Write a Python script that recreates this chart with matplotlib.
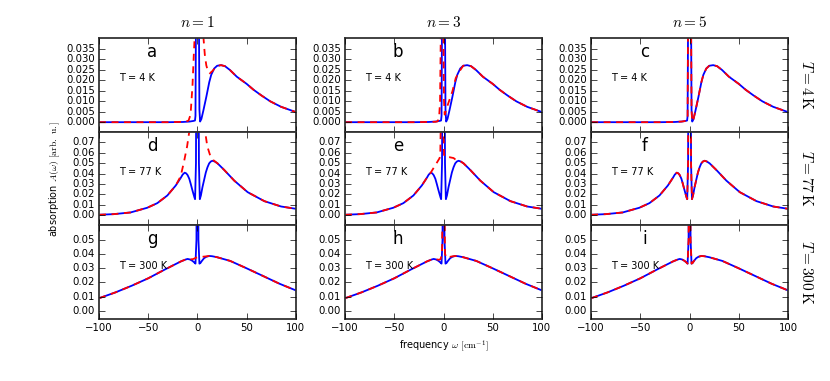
import numpy as np
import matplotlib
matplotlib.use('Agg')
import matplotlib.pyplot as plt
from matplotlib.ticker import FormatStrFormatter

# old-school matplotlib look
plt.style.use('classic')

# EXACT SPECTRA (blue), one per temperature, same in every column

# T = 4 K
freq_4K = [-100, -60, -30, -15, -8, -4, -2.5, -2, -1.5, -1, 0, 1, 1.5, 2, 2.7,
           4, 6, 9, 12, 14, 17, 20, 24, 28, 33, 40, 50, 57, 65, 74, 85, 100]
abs_4K = [0, 0, 0, 0.0001, 0.0003, 0.0006, 0.0008, 0.003, 0.05, 0.2, 0.5, 0.2, 0.05, 0.006, 0.0003,
          0.0015, 0.0055, 0.012, 0.019, 0.0225, 0.0255, 0.0268, 0.0271, 0.0266, 0.0248, 0.0216,
          0.0182, 0.0154, 0.0127, 0.0099, 0.0073, 0.0048]

# T = 77 K
freq_77K = [-100, -85, -68, -51, -40.8, -30.6, -22.1, -17, -15, -13, -11.5, -10, -8.3, -6.8,
            -5.4, -4.1, -3, -2.4, -1.5, -1, 0, 1, 1.5, 2.4, 3.5, 5.1, 6.8, 8.5, 10.2, 11.9,
            13.6, 15.3, 17.5, 20.4, 27.2, 37.4, 51, 68, 85, 100]
abs_77K = [0.0006, 0.0012, 0.0028, 0.0073, 0.0117, 0.019, 0.0285, 0.0358, 0.039, 0.0408,
           0.0402, 0.0385, 0.035, 0.030, 0.025, 0.0206, 0.017, 0.0155, 0.05, 0.2, 0.5, 0.2,
           0.05, 0.0155, 0.019, 0.027, 0.034, 0.041, 0.046, 0.0497, 0.0515, 0.0522, 0.0515,
           0.0497, 0.0434, 0.0332, 0.0222, 0.0136, 0.0085, 0.0063]

# T = 300 K
freq_300K = [-100, -83.3, -66.7, -50, -33.3, -16.7, -12, -10, -7.5, -5, -3, -2, -1, 0, 1, 2,
             3, 4.5, 6.7, 9, 12, 15, 20, 33.3, 50, 66.7, 83.3, 100]
abs_300K = [0.0088, 0.0129, 0.0176, 0.0228, 0.0289, 0.0347, 0.0360, 0.0364, 0.0360, 0.035,
            0.0338, 0.0331, 0.05, 0.3, 0.05, 0.0331, 0.0335, 0.035, 0.0369, 0.0379, 0.0385,
            0.0383, 0.0376, 0.035, 0.0298, 0.0244, 0.019, 0.0143]

# APPROXIMATE SPECTRA (red dashed), one per panel

freq_a = [-100, -30, -12, -9, -7, -5, -3.7, -2.7, 0, 5.8, 7.5, 9, 10.5, 12.5, 15, 18, 20,
          24, 28, 33, 40, 50, 57, 65, 74, 85, 100]
red_a = [0, 0, 0.0002, 0.0008, 0.0036, 0.0177, 0.032, 0.042, 0.2, 0.042, 0.032, 0.027,
         0.0245, 0.0232, 0.0242, 0.0258, 0.0267, 0.0271, 0.0266, 0.0248, 0.0216, 0.0182,
         0.0154, 0.0127, 0.0099, 0.0073, 0.0048]

freq_b = [-100, -30, -8, -6, -4.5, -3.5, -2.7, -1.5, -0.2, 0.5, 1.2, 3, 5.6, 9, 12.4, 15.7,
          20, 24, 28, 33, 40, 50, 57, 65, 74, 85, 100]
red_b = [0, 0, 0.0002, 0.0004, 0.002, 0.01, 0.045, 0.2, 0.045, 0.01, 0.0036, 0.0064, 0.0100,
         0.0146, 0.0209, 0.0238, 0.0268, 0.0271, 0.0266, 0.0248, 0.0216, 0.0182, 0.0154,
         0.0127, 0.0099, 0.0073, 0.0048]

freq_c = freq_4K
red_c = abs_4K

freq_d = [-100, -85, -68, -51, -40.8, -30.6, -22.1, -17, -13.5, -10.5, -8, -4, 0, 4, 7.5, 10,
          13, 16.5, 20.4, 27.2, 37.4, 51, 68, 85, 100]
red_d = [0.0006, 0.0012, 0.0028, 0.0073, 0.0117, 0.019, 0.0285, 0.0375, 0.052, 0.066, 0.082,
         0.15, 0.3, 0.15, 0.082, 0.066, 0.057, 0.0525, 0.0497, 0.0434, 0.0332, 0.0222, 0.0136,
         0.0085, 0.0063]

freq_e = [-100, -85, -68, -51, -40.8, -30.6, -22.1, -17, -13, -10.2, -7, -4.1, -3.3, -2.6,
          -1.5, -0.3, 0.5, 1.7, 6, 10.2, 12, 14.2, 15.3, 17.5, 20.4, 27.2, 37.4, 51, 68, 85, 100]
red_e = [0.0006, 0.0012, 0.0028, 0.0073, 0.0117, 0.019, 0.0285, 0.0358, 0.0408, 0.0451,
         0.0500, 0.0545, 0.057, 0.1, 0.3, 0.1, 0.058, 0.0555, 0.0556, 0.0548, 0.0535, 0.0523,
         0.0522, 0.0515, 0.0497, 0.0434, 0.0332, 0.0222, 0.0136, 0.0085, 0.0063]

freq_f = freq_77K
red_f = abs_77K

freq_g = [-100, -83.3, -66.7, -50, -33.3, -16.7, -12, -10, -7.5, -5, -3, -1.5, 0, 3, 6, 9,
          12, 15, 20, 33.3, 50, 66.7, 83.3, 100]
red_g = [0.0088, 0.0129, 0.0176, 0.0228, 0.0289, 0.0347, 0.0360, 0.0364, 0.0362, 0.0362,
         0.0367, 0.0373, 0.0376, 0.0378, 0.0380, 0.0382, 0.0385, 0.0383, 0.0376, 0.035,
         0.0298, 0.0244, 0.019, 0.0143]

freq_h = [-100, -83.3, -66.7, -50, -33.3, -16.7, -12, -10, -7.5, -5, -3, -1.5, -0.7, 0, 0.7,
          1.5, 3, 6, 9, 12, 15, 20, 33.3, 50, 66.7, 83.3, 100]
red_h = [0.0088, 0.0129, 0.0176, 0.0228, 0.0289, 0.0347, 0.0360, 0.0364, 0.0362, 0.0358,
         0.0362, 0.040, 0.1, 0.3, 0.1, 0.040, 0.0372, 0.0378, 0.0382, 0.0385, 0.0383, 0.0376,
         0.035, 0.0298, 0.0244, 0.019, 0.0143]

freq_i = freq_300K
red_i = abs_300K

# labels
orders = [1, 3, 5]
temps = ['4', '77', '300']
letters = ['a', 'b', 'c', 'd', 'e', 'f', 'g', 'h', 'i']

exact = [(freq_4K, abs_4K), (freq_77K, abs_77K), (freq_300K, abs_300K)]
approx = [[(freq_a, red_a), (freq_b, red_b), (freq_c, red_c)],
          [(freq_d, red_d), (freq_e, red_e), (freq_f, red_f)],
          [(freq_g, red_g), (freq_h, red_h), (freq_i, red_i)]]

# y range, tick step and format of each row
ylims = [(-0.0045, 0.04), (-0.0095, 0.08), (-0.0058, 0.06)]
ysteps = [0.005, 0.01, 0.01]
ytops = [0.035, 0.07, 0.05]
yfmts = ['%.3f', '%.2f', '%.2f']

fig, axes = plt.subplots(3, 3, figsize=(8.3, 3.81), dpi=100, sharex=True)
fig.patch.set_facecolor('white')
fig.subplots_adjust(left=0.1193, right=0.9494, top=0.9003, bottom=0.1627,
                    wspace=0.25, hspace=0.0)

for r in range(3):
    for c in range(3):
        ax = axes[r, c]
        fx, fy = exact[r]
        ax.plot(fx, fy, color='b', linewidth=1.3)
        gx, gy = approx[r][c]
        ax.plot(gx, gy, color='r', linestyle='--', dashes=(5, 4), linewidth=1.3)

        ax.set_xlim(-100, 100)
        ax.set_ylim(ylims[r])
        ax.set_xticks([-100, -50, 0, 50, 100])
        ax.set_yticks(np.arange(0, ytops[r] + ysteps[r] / 2, ysteps[r]))
        ax.yaxis.set_major_formatter(FormatStrFormatter(yfmts[r]))
        ax.tick_params(labelsize=7.3, direction='in', length=4, pad=3)
        for side in ax.spines.values():
            side.set_linewidth(1.3)
            side.set_color('#333333')

        ax.text(0.27, 0.85, letters[3 * r + c], transform=ax.transAxes,
                fontsize=12, ha='center', va='center')
        ax.text(0.10, 0.57, 'T = %s K' % temps[r], transform=ax.transAxes,
                fontsize=7, ha='left', va='center')

        if r == 0:
            ax.text(0.5, 1.17, r'$n=%d$' % orders[c], transform=ax.transAxes,
                    fontsize=11, ha='center', va='center')
        if c == 2:
            ax.text(1.096, 0.5, r'$T=%s\,\mathrm{K}$' % temps[r], transform=ax.transAxes,
                    fontsize=11, ha='center', va='center', rotation=270)

axes[1, 0].set_ylabel(r'absorption $A(\omega)$ $[\mathrm{arb.\ u.}]$', fontsize=7)
axes[1, 0].yaxis.set_label_coords(-0.19, 0.5)
axes[2, 1].set_xlabel(r'frequency $\omega$ $[\mathrm{cm}^{-1}]$', fontsize=7)
axes[2, 1].xaxis.set_label_coords(0.5, -0.20)

plt.savefig('out.png', dpi=100, facecolor='white')
